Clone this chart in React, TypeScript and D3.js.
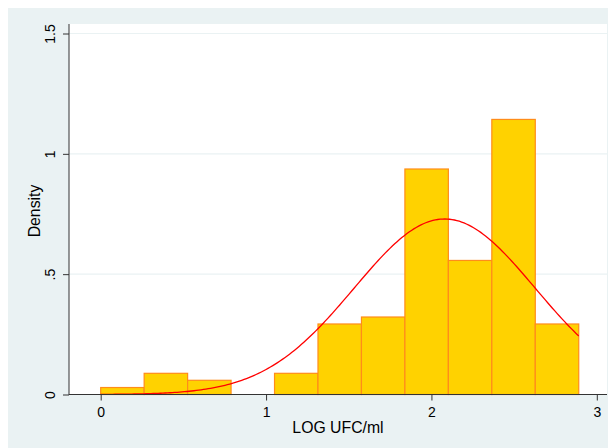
import React, { useRef, useEffect } from 'react';
import * as d3 from 'd3';

// histogram bins (LOG UFC/ml), 11 bins of equal width
const binStart = 0;
const binWidth = 0.2628;
const densities = [0.029, 0.088, 0.059, 0, 0.088, 0.293, 0.322, 0.937, 0.557, 1.143, 0.293];

// fitted normal overlay
const normMean = 2.08;
const normSd = 0.547;

const xTicks = [0, 1, 2, 3];
const yTicks = [0, 0.5, 1, 1.5];
const yTickLabels = ['0', '.5', '1', '1.5'];

const width = 611;
const height = 448;
const plot = { left: 69, right: 607, top: 24, bottom: 395 };
const font = '"Liberation Sans", Arial, sans-serif';

const App: React.FC = () => {
  const ref = useRef<SVGSVGElement>(null);

  useEffect(() => {
    const svg = d3.select(ref.current);
    svg.selectAll('*').remove();

    const x = d3.scaleLinear().domain([0, 3]).range([100.7, 596.8]);
    const y = d3.scaleLinear().domain([0, 1.5]).range([394.5, 33.5]);

    svg.append('rect').attr('width', width).attr('height', height).attr('fill', '#fff');
    svg
      .append('rect')
      .attr('x', 8)
      .attr('y', 8)
      .attr('width', 600)
      .attr('height', height - 8)
      .attr('fill', '#eaf2f3');
    svg
      .append('rect')
      .attr('x', plot.left)
      .attr('y', plot.top)
      .attr('width', plot.right - plot.left)
      .attr('height', plot.bottom - plot.top)
      .attr('fill', '#fff');

    // grid
    svg
      .append('g')
      .selectAll('line')
      .data(yTicks.filter((t) => t > 0))
      .join('line')
      .attr('x1', plot.left)
      .attr('x2', plot.right)
      .attr('y1', (d) => y(d))
      .attr('y2', (d) => y(d))
      .attr('stroke', '#eaf2f3')
      .attr('stroke-width', 1.2);

    // bars
    svg
      .append('g')
      .selectAll('rect')
      .data(densities.map((d, i) => ({ x0: binStart + i * binWidth, d })).filter((b) => b.d > 0))
      .join('rect')
      .attr('x', (b) => x(b.x0))
      .attr('y', (b) => y(b.d))
      .attr('width', (b) => x(b.x0 + binWidth) - x(b.x0))
      .attr('height', (b) => y(0) - y(b.d))
      .attr('fill', '#ffd200')
      .attr('stroke', '#ff8c1a')
      .attr('stroke-width', 1.2);

    // normal curve
    const xEnd = binStart + binWidth * densities.length;
    const pts = d3.range(0, 201).map((i) => {
      const v = binStart + ((xEnd - binStart) * i) / 200;
      const z = (v - normMean) / normSd;
      return [v, Math.exp(-0.5 * z * z) / (normSd * Math.sqrt(2 * Math.PI))] as [number, number];
    });
    svg
      .append('path')
      .attr('d', d3.line<[number, number]>().x((p) => x(p[0])).y((p) => y(p[1]))(pts))
      .attr('fill', 'none')
      .attr('stroke', '#ff0000')
      .attr('stroke-width', 1.3);

    // axes
    const xAxis = svg
      .append('g')
      .attr('transform', `translate(0,${y(0)})`)
      .call(d3.axisBottom(x).tickValues(xTicks).tickFormat(d3.format('d')).tickSize(6).tickSizeOuter(0));
    xAxis.select('.domain').attr('d', `M${plot.left},0H${plot.right}`).attr('stroke', '#333');
    xAxis.selectAll('.tick line').attr('stroke', '#333');
    xAxis.selectAll('text').attr('font-family', font).attr('font-size', 14).attr('fill', '#000').attr('dy', '0.95em');

    const yAxis = svg
      .append('g')
      .attr('transform', `translate(${plot.left},0)`)
      .call(
        d3
          .axisLeft(y)
          .tickValues(yTicks)
          .tickFormat((_, i) => yTickLabels[i])
          .tickSize(6)
          .tickSizeOuter(0),
      );
    yAxis.select('.domain').attr('d', `M0,${plot.top}V${plot.bottom}`).attr('stroke', '#333');
    yAxis.selectAll('.tick line').attr('stroke', '#333');
    yAxis
      .selectAll('text')
      .attr('font-family', font)
      .attr('font-size', 14)
      .attr('fill', '#000')
      .attr('x', 0)
      .attr('dy', 0)
      .attr('text-anchor', 'middle')
      .attr('transform', 'translate(-14,0) rotate(-90)');

    svg
      .append('text')
      .attr('transform', `translate(40,211) rotate(-90)`)
      .attr('text-anchor', 'middle')
      .attr('font-family', font)
      .attr('font-size', 15.8)
      .text('Density');

    svg
      .append('text')
      .attr('x', 338)
      .attr('y', 433)
      .attr('text-anchor', 'middle')
      .attr('font-family', font)
      .attr('font-size', 15.8)
      .text('LOG UFC/ml');
  }, []);

  return <svg ref={ref} width={width} height={height} style={{ position: 'absolute', left: 0, top: 0 }} />;
};

export default App;
